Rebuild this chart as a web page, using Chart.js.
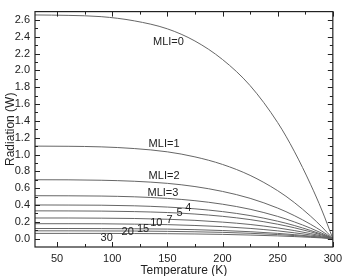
<!DOCTYPE html>
<html>
<head>
<meta charset="utf-8">
<script src="https://cdn.jsdelivr.net/npm/chart.js@4"></script>
<style>
  html, body { margin: 0; padding: 0; background: #fff; }
  #wrap { width: 347px; height: 276px; }
</style>
</head>
<body>
<div id="wrap"><canvas id="radChart"></canvas></div>
<script>
// temperatures (K) sampled along the curves
const temps = [30, 60, 90, 120, 150, 175, 200, 225, 250, 265, 280, 290, 300];

// radiation (W), one array per MLI layer count
const mli0  = [2.66, 2.655, 2.64, 2.59, 2.495, 2.35, 2.13, 1.82, 1.38, 1.04, 0.64, 0.34, 0];
const mli1  = [1.10, 1.098, 1.091, 1.071, 1.032, 0.972, 0.882, 0.752, 0.570, 0.430, 0.265, 0.140, 0];
const mli2  = [0.70, 0.699, 0.694, 0.682, 0.657, 0.619, 0.561, 0.479, 0.363, 0.274, 0.169, 0.089, 0];
const mli3  = [0.51, 0.509, 0.506, 0.497, 0.478, 0.451, 0.409, 0.349, 0.264, 0.199, 0.123, 0.065, 0];
const mli4  = [0.40, 0.399, 0.397, 0.390, 0.375, 0.354, 0.321, 0.274, 0.207, 0.156, 0.096, 0.051, 0];
const mli5  = [0.33, 0.329, 0.327, 0.321, 0.310, 0.292, 0.265, 0.226, 0.171, 0.129, 0.080, 0.042, 0];
const mli7  = [0.245, 0.245, 0.243, 0.239, 0.230, 0.217, 0.196, 0.168, 0.127, 0.096, 0.059, 0.031, 0];
const mli10 = [0.177, 0.177, 0.176, 0.172, 0.166, 0.156, 0.142, 0.121, 0.092, 0.069, 0.043, 0.022, 0];
const mli15 = [0.12, 0.12, 0.119, 0.117, 0.113, 0.106, 0.096, 0.082, 0.062, 0.047, 0.029, 0.015, 0];
const mli20 = [0.092, 0.092, 0.091, 0.090, 0.086, 0.081, 0.074, 0.063, 0.048, 0.036, 0.022, 0.012, 0];
const mli30 = [0.062, 0.062, 0.062, 0.060, 0.058, 0.055, 0.050, 0.042, 0.032, 0.024, 0.015, 0.008, 0];

const seriesNames = ['MLI=0', 'MLI=1', 'MLI=2', 'MLI=3', '4', '5', '7', '10', '15', '20', '30'];
const seriesData = [mli0, mli1, mli2, mli3, mli4, mli5, mli7, mli10, mli15, mli20, mli30];

// curve labels, placed in data units [T, W]
const labelSpots = [[151, 2.335], [147, 1.13], [147, 0.75], [146, 0.54], [169, 0.36], [161, 0.30],
                    [152, 0.22], [140, 0.185], [128, 0.115], [114, 0.08], [95, 0.01]];

const xTicks = [50, 100, 150, 200, 250, 300];
const yTicks = [0, 0.2, 0.4, 0.6, 0.8, 1.0, 1.2, 1.4, 1.6, 1.8, 2.0, 2.2, 2.4, 2.6];

const fontFam = '"Liberation Sans", Arial, sans-serif';

const datasets = seriesData.map((vals, i) => ({
    label: seriesNames[i],
    data: temps.map((t, j) => ({ x: t, y: vals[j] })),
    borderColor: '#666',
    borderWidth: 1,
    pointRadius: 0,
    fill: false,
    cubicInterpolationMode: 'monotone'
}));

// frame with inward ticks on all four sides
const framePlugin = {
    id: 'frame',
    afterDraw(chart) {
        const ctx = chart.ctx;
        const a = chart.chartArea;
        const xs = chart.scales.x, ys = chart.scales.y;
        ctx.save();
        ctx.strokeStyle = '#222';
        ctx.lineWidth = 1.2;
        ctx.strokeRect(a.left, a.top, a.right - a.left, a.bottom - a.top);
        ctx.lineWidth = 1;
        ctx.beginPath();
        for (let t = 50; t <= 300; t += 25) {
            const px = Math.round(xs.getPixelForValue(t)) + 0.5;
            const len = (t % 50 === 0) ? 5 : 3;
            ctx.moveTo(px, a.bottom); ctx.lineTo(px, a.bottom - len);
            ctx.moveTo(px, a.top); ctx.lineTo(px, a.top + len);
        }
        for (let k = 0; k <= 26; k++) {
            const v = k / 10;
            const py = Math.round(ys.getPixelForValue(v)) + 0.5;
            const len = (k % 2 === 0) ? 5 : 3;
            ctx.moveTo(a.left, py); ctx.lineTo(a.left + len, py);
            ctx.moveTo(a.right, py); ctx.lineTo(a.right - len, py);
        }
        ctx.stroke();
        ctx.restore();
    }
};

const curveLabels = {
    id: 'curveLabels',
    afterDatasetsDraw(chart) {
        const ctx = chart.ctx;
        const xs = chart.scales.x, ys = chart.scales.y;
        ctx.save();
        ctx.fillStyle = '#222';
        ctx.font = '11px ' + fontFam;
        ctx.textAlign = 'center';
        ctx.textBaseline = 'middle';
        labelSpots.forEach((p, i) => {
            ctx.fillText(seriesNames[i], xs.getPixelForValue(p[0]), ys.getPixelForValue(p[1]));
        });
        ctx.restore();
    }
};

new Chart(document.getElementById('radChart'), {
    type: 'line',
    data: { datasets: datasets },
    options: {
        responsive: true,
        maintainAspectRatio: false,
        animation: false,
        layout: { padding: { top: 5, right: 6, left: 0, bottom: 0 } },
        plugins: {
            legend: { display: false },
            tooltip: { enabled: false }
        },
        scales: {
            x: {
                type: 'linear',
                min: 30,
                max: 300,
                afterBuildTicks: s => { s.ticks = xTicks.map(v => ({ value: v })); },
                afterFit: s => { s.height = 29; },
                grid: { display: false, drawTicks: false },
                border: { display: false },
                ticks: {
                    color: '#222',
                    padding: 5,
                    maxRotation: 0,
                    font: { family: fontFam, size: 11 },
                    callback: v => String(v)
                },
                title: {
                    display: true,
                    text: 'Temperature (K)',
                    color: '#222',
                    padding: { top: 0, bottom: -2 },
                    font: { family: fontFam, size: 12 }
                }
            },
            y: {
                min: -0.1,
                max: 2.7,
                afterBuildTicks: s => { s.ticks = yTicks.map(v => ({ value: v })); },
                afterFit: s => { s.width = 35; },
                grid: { display: false, drawTicks: false },
                border: { display: false },
                ticks: {
                    color: '#222',
                    padding: 5,
                    font: { family: fontFam, size: 11 },
                    callback: v => Number(v).toFixed(1)
                },
                title: {
                    display: true,
                    text: 'Radiation (W)',
                    color: '#222',
                    padding: { top: 3, bottom: 0 },
                    font: { family: fontFam, size: 12 }
                }
            }
        }
    },
    plugins: [framePlugin, curveLabels]
});
</script>
</body>
</html>
